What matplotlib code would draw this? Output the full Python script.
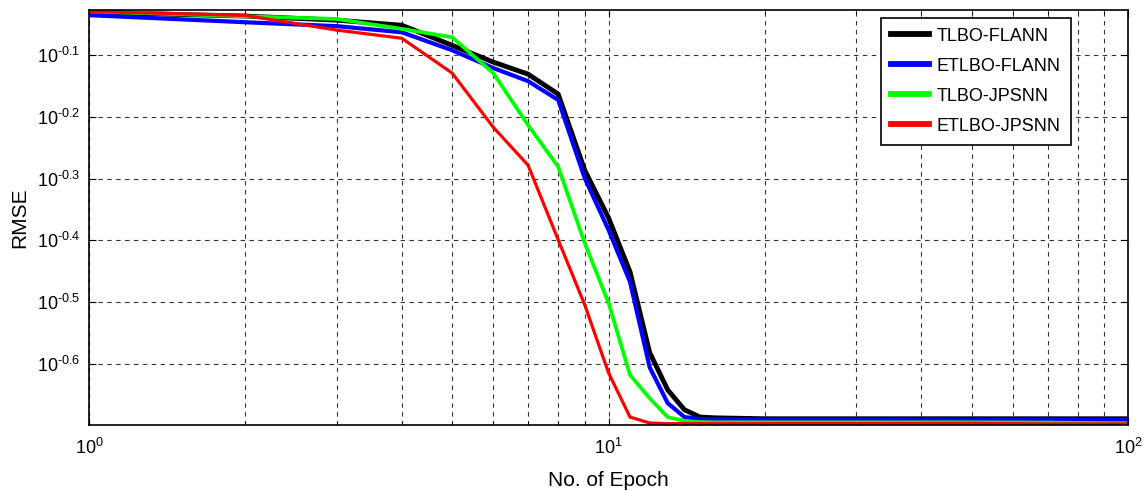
import numpy as np
import matplotlib.pyplot as plt
from matplotlib.ticker import FixedLocator, NullLocator, LogLocator

plt.rcParams['font.family'] = ['Liberation Sans', 'DejaVu Sans']
plt.rcParams['mathtext.fontset'] = 'custom'
plt.rcParams['mathtext.rm'] = 'Liberation Sans'
plt.rcParams['mathtext.it'] = 'Liberation Sans:italic'
plt.rcParams['mathtext.bf'] = 'Liberation Sans:bold'

# Data (RMSE vs epoch)
epochs = [1, 2, 3, 4, 5, 6, 7, 8, 9, 10, 11, 12, 13, 14, 15, 16, 20, 30, 50, 70, 100]

tlbo_flann = [0.932, 0.919, 0.905, 0.888, 0.824, 0.774, 0.740, 0.687, 0.517, 0.433,
              0.354, 0.262, 0.228, 0.2117, 0.206, 0.2054, 0.2047, 0.2047, 0.2047, 0.2047, 0.2047]
etlbo_flann = [0.922, 0.898, 0.885, 0.865, 0.809, 0.757, 0.721, 0.672, 0.502, 0.414,
               0.341, 0.248, 0.217, 0.206, 0.2045, 0.2042, 0.2040, 0.2040, 0.2040, 0.2040, 0.2040]
tlbo_jpsnn = [0.935, 0.918, 0.909, 0.876, 0.849, 0.743, 0.612, 0.524, 0.394, 0.3155,
              0.241, 0.221, 0.206, 0.203, 0.2022, 0.2020, 0.2020, 0.2020, 0.2020, 0.2018, 0.2012]
etlbo_jpsnn = [0.935, 0.921, 0.872, 0.846, 0.743, 0.607, 0.527, 0.399, 0.313, 0.243,
               0.206, 0.2015, 0.2010, 0.2010, 0.2010, 0.2010, 0.2010, 0.2010, 0.2012, 0.2008, 0.2008]

series = [
    ('TLBO-FLANN', tlbo_flann, 'black', 3.5),
    ('ETLBO-FLANN', etlbo_flann, '#0000ff', 3.0),
    ('TLBO-JPSNN', tlbo_jpsnn, '#00ff00', 2.7),
    ('ETLBO-JPSNN', etlbo_jpsnn, '#ff0000', 2.3),
]

ytick_vals = ['-0.6', '-0.5', '-0.4', '-0.3', '-0.2', '-0.1']

fig = plt.figure(figsize=(11.46, 4.92), dpi=100)
ax = fig.add_axes([0.0777, 0.1362, 0.9066, 0.8435])

for name, vals, color, lw in series:
    ax.plot(epochs, vals, color=color, linewidth=lw, label=name,
            marker='.', markersize=2)

ax.set_xscale('log')
ax.set_yscale('log')
ax.set_xlim(1, 100)
ax.set_ylim(0.2, 0.94)

ax.yaxis.set_major_locator(FixedLocator([10 ** float(v) for v in ytick_vals]))
ax.yaxis.set_minor_locator(NullLocator())
ax.set_yticklabels([r'$10^{\text{%s}}$' % v for v in ytick_vals])
ax.xaxis.set_major_locator(LogLocator(base=10))
ax.xaxis.set_minor_locator(LogLocator(base=10, subs=np.arange(2, 10)))

ax.grid(True, which='major', axis='both', color='black', linestyle=(0, (4, 4)), linewidth=0.8, alpha=0.8)
ax.grid(True, which='minor', axis='x', color='black', linestyle=(0, (4, 4)), linewidth=0.8, alpha=0.8)

ax.tick_params(which='both', direction='in', top=True, right=True, labelsize=13)
ax.tick_params(which='major', length=5)
ax.tick_params(which='minor', length=3)
ax.tick_params(axis='x', pad=9)
ax.tick_params(axis='y', pad=6)
for sp in ax.spines.values():
    sp.set_linewidth(1.2)

ax.set_xlabel('No. of Epoch', fontsize=15, labelpad=10)
ax.set_ylabel('RMSE', fontsize=15, labelpad=6)

leg = ax.legend(loc='upper left', fontsize=13, frameon=True, fancybox=False,
                edgecolor='black', framealpha=1, borderpad=0.55, handlelength=2.1,
                handletextpad=0.45, labelspacing=0.72, borderaxespad=0,
                bbox_to_anchor=(0.762, 0.981))
leg.get_frame().set_linewidth(1.2)
for line in leg.get_lines():
    line.set_linewidth(4.2)

fig.savefig('out.png', dpi=100)
